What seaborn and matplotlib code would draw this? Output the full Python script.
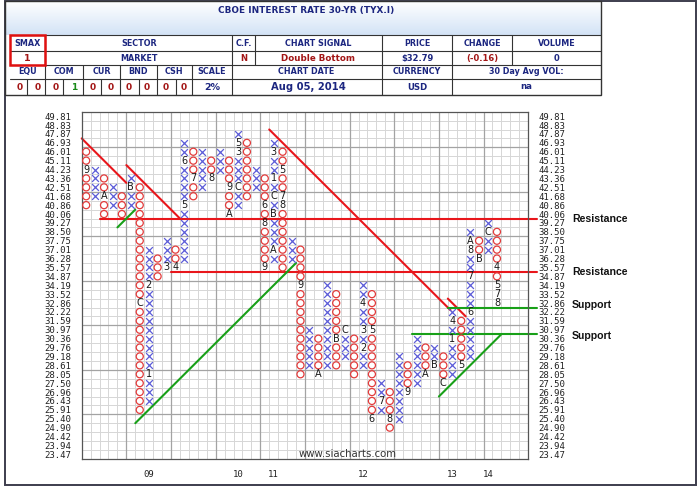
import numpy as np
import pandas as pd
import matplotlib
matplotlib.use("Agg")
import matplotlib.pyplot as plt
from matplotlib.patches import Rectangle
from matplotlib.colors import LinearSegmentedColormap
import seaborn as sns

# 2% box scale, top to bottom
levels = [49.81, 48.83, 47.87, 46.93, 46.01, 45.11, 44.23, 43.36, 42.51, 41.68,
          40.86, 40.06, 39.27, 38.50, 37.75, 37.01, 36.28, 35.57, 34.87, 34.19,
          33.52, 32.86, 32.22, 31.59, 30.97, 30.36, 29.76, 29.18, 28.61, 28.05,
          27.50, 26.96, 26.43, 25.91, 25.40, 24.90, 24.42, 23.94, 23.47]

# point & figure columns (alternating O / X)
col_type = list("OXOXOXOXOXOXOXOXOXOXOXOXOXOXOXOXOXOXOXOXOXOXOXO")
col_high = [46.01, 44.23, 43.36, 42.51, 41.68, 43.36, 42.51, 37.01, 36.28, 37.75,
            37.01, 46.93, 46.01, 46.01, 45.11, 46.01, 45.11, 47.87, 46.93, 44.23,
            43.36, 46.93, 46.01, 37.75, 37.01, 30.97, 30.36, 34.19, 33.52, 30.97,
            30.36, 34.19, 33.52, 27.50, 26.96, 29.18, 28.61, 30.36, 29.76, 29.76,
            29.18, 32.22, 31.59, 38.50, 37.75, 39.27, 38.50]
col_low = [40.86, 41.68, 40.06, 40.86, 40.06, 40.86, 25.91, 26.43, 34.87, 35.57,
           35.57, 36.28, 41.68, 42.51, 43.36, 44.23, 40.06, 40.86, 41.68, 42.51,
           35.57, 36.28, 35.57, 36.28, 28.05, 28.61, 28.05, 28.61, 28.61, 29.18,
           28.05, 28.61, 25.40, 25.91, 24.90, 25.40, 26.96, 27.50, 28.05, 28.61,
           27.50, 28.05, 28.61, 29.18, 36.28, 37.01, 32.86]

# month markers (column, price, label)
month_col = [0, 2, 5, 6, 7, 7, 9, 10, 11, 11, 12, 14, 16, 16, 17, 17, 17,
             20, 20, 20, 21, 21, 21, 21, 21, 22, 22, 22, 24, 26, 28, 29,
             31, 31, 31, 32, 32, 33, 34, 36, 38, 39, 40, 41, 41, 42,
             43, 43, 43, 43, 44, 45, 46, 46, 46, 46]
month_price = [44.23, 41.68, 42.51, 32.86, 28.05, 34.19, 35.57, 35.57, 40.86, 45.11,
               43.36, 43.36, 42.51, 40.06, 42.51, 46.01, 46.93,
               40.86, 39.27, 35.57, 37.01, 40.06, 41.68, 43.36, 46.01,
               44.23, 41.68, 40.86, 34.19, 28.05, 30.36, 30.97,
               29.76, 30.97, 32.86, 30.97, 25.40, 26.43, 25.40, 26.96,
               28.05, 28.61, 27.50, 30.36, 31.59, 28.61,
               32.22, 34.87, 37.01, 37.75, 36.28, 38.50,
               35.57, 34.19, 33.52, 32.86]
month_text = ["9", "A", "B", "C", "1", "2", "3", "4", "5", "6", "7", "8", "9", "A",
              "C", "3", "5", "6", "8", "9", "A", "B", "C", "1", "3", "5", "7", "8",
              "9", "A", "B", "C", "2", "3", "4", "5", "6", "7", "8", "9", "A", "B",
              "C", "1", "4", "5", "6", "7", "8", "A", "B", "C", "4", "5", "7", "8"]

year_col = [7, 17, 21, 31, 41, 45]
year_text = ["09", "10", "11", "12", "13", "14"]

# trend lines in (column, row) grid units
red_lines = [((0, 3), (5, 8)), ((5, 6), (11, 12)), ((2, 12), (51, 12)),
             ((10, 18), (51, 18)), ((21, 2), (41.3, 22.3)), ((41, 21), (43, 23))]
green_lines = [((4, 13), (6, 11)), ((6, 35), (24, 17)), ((40, 32), (47, 25)),
               ((37, 25), (51, 25)), ((41, 22), (51, 22))]
line_notes = [("Resistance", 12), ("Resistance", 18), ("Support", 21.7), ("Support", 25.2)]

row_of = {p: i for i, p in enumerate(levels)}
labelled = {(c, row_of[p]) for c, p in zip(month_col, month_price)}

rows = []
for c, (kind, hi, lo) in enumerate(zip(col_type, col_high, col_low)):
    for r in range(row_of[hi], row_of[lo] + 1):
        if (c, r) not in labelled:
            rows.append({"col": c + 0.5, "row": r + 0.5, "kind": kind})
boxes = pd.DataFrame(rows)

NAVY = "#1c2680"
DRED = "#a31515"
XCOL = "#5c5cd8"
OCOL = "#e23b3b"

sns.set_theme(style="white")
plt.rcParams["font.family"] = ["DejaVu Sans"]

fig = plt.figure(figsize=(7, 4.87), dpi=100)

# ---- header panel drawn in pixel coordinates
hdr = fig.add_axes([0, 0, 1, 1], zorder=0)
cmap = LinearSegmentedColormap.from_list("band", ["#ffffff", "#d3e3f6"])
hdr.imshow(np.linspace(0, 1, 60).reshape(-1, 1), extent=(5, 600.7, 35, 1),
           cmap=cmap, aspect="auto", zorder=0)
hdr.set_xlim(0, 700)
hdr.set_ylim(487, 0)
hdr.axis("off")

hdr.add_patch(Rectangle((5, 1), 691, 484, fill=False, ec="#3d3d4d", lw=1.4))
hdr.add_patch(Rectangle((5, 1), 595.7, 93.5, fill=False, ec="#333333", lw=1.0))
lk = dict(color="#333333", lw=0.8)
for y in [35, 50.7, 65, 79]:
    hdr.plot([10, 600.7], [y, y], **lk)
for x in [45, 232.3, 255, 381.7, 452.3, 512.3]:
    hdr.plot([x, x], [35, 65], **lk)
for x in [45, 83.3, 120, 156.7, 191.7, 232.3, 381.7, 452.3]:
    hdr.plot([x, x], [65, 94.5], **lk)
for x in [27.3, 63.3, 100.7, 139.3, 175.7]:
    hdr.plot([x, x], [79, 94.5], **lk)
hdr.add_patch(Rectangle((10, 35), 35, 29.5, fill=False, ec="#e01010", lw=1.8, zorder=5))

def htxt(x, y, s, color=NAVY, size=5.8, weight="bold"):
    hdr.text(x, y, s, ha="center", va="center", color=color, fontsize=size, fontweight=weight)

htxt(306, 10, "CBOE INTEREST RATE 30-YR (TYX.I)", size=6.4)
for x, s in [(27.5, "SMAX"), (138.7, "SECTOR"), (243.7, "C.F."), (318.3, "CHART SIGNAL"),
             (417, "PRICE"), (482.3, "CHANGE"), (556.5, "VOLUME")]:
    htxt(x, 43.3, s)
htxt(27.5, 58.3, "1", DRED, 6.8)
htxt(138.7, 58.3, "MARKET", NAVY, 5.8)
htxt(243.7, 58.3, "N", DRED, 6)
htxt(318.3, 58.3, "Double Bottom", DRED, 6.3)
htxt(417, 58.3, "$32.79", NAVY, 6)
htxt(482.3, 58.3, "(-0.16)", DRED, 6)
htxt(556.5, 58.3, "0", NAVY, 6)
for x, s in [(27.5, "EQU"), (64.2, "COM"), (101.7, "CUR"), (138.3, "BND"), (174.2, "CSH"),
             (212, "SCALE"), (306, "CHART DATE"), (417, "CURRENCY"), (526.5, "30 Day Avg VOL:")]:
    htxt(x, 71.7, s)
for x, s in zip([19.3, 37.3, 56, 74, 92.3, 111, 128.3, 146.7, 165.3, 183.3],
                ["0", "0", "0", "1", "0", "0", "0", "0", "0", "0"]):
    htxt(x, 87, s, "#1a8a1a" if s == "1" else DRED, 6.5)
htxt(212, 87, "2%", NAVY, 6.8)
htxt(308, 87, "Aug 05, 2014", NAVY, 7.2)
htxt(417, 87, "USD", NAVY, 6.2)
htxt(526.5, 86.5, "na", NAVY, 6.2)

# ---- point & figure grid
ax = fig.add_axes([81.7 / 700, 1 - 458.8 / 487, 446.5 / 700, 347.1 / 487], zorder=1)
ax.set_facecolor("white")
ncols, nrows = 50, len(levels)
ax.vlines([i for i in range(1, ncols) if i % 5], 0, nrows, color="#d6d6d6", lw=0.7, zorder=0)
ax.hlines([i for i in range(1, nrows) if (i + 1) % 5], 0, ncols, color="#d6d6d6", lw=0.7, zorder=0)
ax.vlines([i for i in range(1, ncols) if i % 5 == 0], 0, nrows, color="#a3a3a3", lw=0.9, zorder=0)
ax.hlines([i for i in range(1, nrows) if (i + 1) % 5 == 0], 0, ncols, color="#a3a3a3", lw=0.9, zorder=0)

sns.scatterplot(data=boxes[boxes.kind == "X"], x="col", y="row", marker="x",
                color=XCOL, s=24, linewidth=0.9, ax=ax, legend=False, zorder=3)
sns.scatterplot(data=boxes[boxes.kind == "O"], x="col", y="row", marker="o",
                facecolor="none", edgecolor=OCOL, s=26, linewidth=0.9, ax=ax,
                legend=False, zorder=3)
ax.collections[-1].set_facecolor("none")
ax.collections[-1].set_edgecolor(OCOL)

for c, p, t in zip(month_col, month_price, month_text):
    ax.text(c + 0.5, row_of[p] + 0.5, t, ha="center", va="center", fontsize=7,
            color="#1a1a1a", zorder=4)

for (x0, y0), (x1, y1) in red_lines:
    ax.plot([x0, x1], [y0, y1], color="#e8161b", lw=1.5, clip_on=False, zorder=2)
for (x0, y0), (x1, y1) in green_lines:
    ax.plot([x0, x1], [y0, y1], color="#18a018", lw=1.5, clip_on=False, zorder=2)
for s, y in line_notes:
    ax.text(54.9, y, s, ha="left", va="center", fontsize=7.6, fontweight="bold",
            family="Liberation Sans", color="#111111", clip_on=False)

for c, t in zip(year_col, year_text):
    ax.text(c + 0.5, 40.75, t, ha="center", va="center", fontsize=6.5,
            family="DejaVu Sans Mono", color="#222222", clip_on=False)
ax.text(29.8, 38.5, "www.siacharts.com", ha="center", va="center", fontsize=7.3,
        color="#333333", zorder=4)

ax.set_xlim(0, ncols)
ax.set_ylim(nrows, 0)
ax.set_xlabel("")
ax.set_ylabel("")
ax.set_xticks([])
ax.set_yticks(np.arange(nrows) + 0.5)
ax.set_yticklabels([f"{v:.2f}" for v in levels])
ax.tick_params(axis="y", length=0, pad=7.5, labelleft=True, labelright=True,
               labelsize=6.5, labelcolor="#222222")
for tk in ax.yaxis.get_major_ticks():
    tk.label1.set_fontfamily("DejaVu Sans Mono")
    tk.label2.set_fontfamily("DejaVu Sans Mono")
for sp in ax.spines.values():
    sp.set_color("#555555")
    sp.set_linewidth(0.9)

fig.savefig("out.png", dpi=100)
